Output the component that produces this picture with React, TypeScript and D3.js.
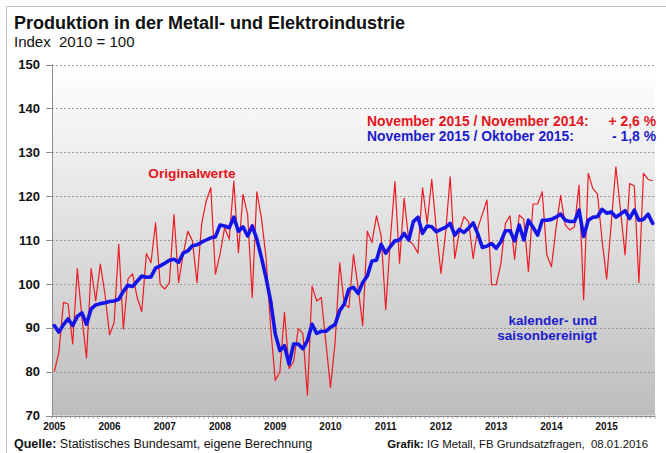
import React from 'react';
import * as d3 from 'd3';

const years = ['2005','2006','2007','2008','2009','2010','2011','2012','2013','2014','2015'];
const yTicks = [70, 80, 90, 100, 110, 120, 130, 140, 150];

// Originalwerte, Jan 2005 .. Nov 2015
const original = [
  80.0, 84.4, 95.8, 95.4, 86.3, 103.5, 92.3, 83.1, 103.5, 96.1, 104.5, 97.7,
  88.4, 91.2, 109.0, 89.7, 101.1, 102.3, 96.9, 93.7, 106.9, 104.8, 113.9, 99.9,
  98.8, 100.3, 115.8, 100.3, 106.7, 112.0, 109.8, 100.3, 113.6, 118.9, 121.9, 102.2,
  106.7, 112.8, 110.2, 123.4, 107.1, 120.4, 115.8, 96.9, 121.0, 115.0, 106.0, 90.1,
  78.0, 79.9, 93.5, 80.7, 82.3, 89.8, 88.7, 74.6, 99.5, 96.1, 96.9, 86.6,
  76.4, 86.6, 104.8, 95.4, 94.6, 106.7, 99.2, 90.5, 112.0, 109.4, 115.5, 111.0,
  94.1, 110.0, 123.3, 104.7, 119.5, 110.0, 108.9, 107.0, 121.9, 113.8, 123.8, 112.3,
  102.4, 111.5, 124.4, 105.8, 111.9, 115.3, 114.2, 105.8, 112.7, 115.9, 119.1, 99.8,
  99.8, 104.5, 113.8, 115.5, 105.6, 115.7, 114.7, 102.8, 118.2, 118.2, 121.0, 106.6,
  103.9, 112.7, 120.2, 113.4, 112.3, 113.0, 122.5, 96.4, 125.2, 121.7, 120.5, 110.0,
  101.1, 113.8, 126.7, 116.8, 106.6, 122.9, 122.3, 100.3, 125.2, 123.8, 123.5
];

// kalender- und saisonbereinigt
const adjusted = [
  90.5, 89.0, 90.7, 92.0, 90.5, 92.6, 93.4, 90.8, 94.3, 95.2, 95.5, 95.7,
  96.0, 96.1, 96.5, 98.3, 99.7, 99.4, 100.6, 101.8, 101.5, 101.6, 103.6, 104.1,
  104.7, 105.4, 105.6, 104.9, 107.0, 107.5, 108.7, 108.9, 109.5, 110.0, 110.5, 110.7,
  113.4, 113.2, 112.8, 115.2, 112.0, 113.0, 110.9, 113.2, 110.2, 106.0, 101.4, 96.1,
  88.6, 84.8, 85.9, 81.7, 86.3, 86.3, 85.2, 87.1, 90.8, 88.7, 89.2, 89.2,
  90.1, 90.7, 93.9, 95.4, 98.8, 99.2, 97.8, 100.3, 101.8, 105.2, 105.4, 109.0,
  107.0, 108.5, 109.8, 110.0, 111.5, 110.0, 114.2, 115.2, 111.5, 113.2, 113.0, 111.9,
  112.4, 112.9, 113.8, 111.1, 112.4, 111.7, 112.7, 113.9, 111.4, 108.3, 108.6, 109.2,
  108.1, 109.6, 112.1, 112.1, 109.8, 113.4, 110.0, 114.5, 112.9, 111.1, 114.5, 114.5,
  114.7, 115.2, 115.9, 114.5, 114.2, 114.2, 116.8, 110.8, 114.5, 115.2, 115.3, 117.0,
  116.1, 116.4, 115.2, 115.9, 116.7, 114.9, 116.8, 114.5, 114.7, 115.9, 113.8
];

const RED = '#ec1c24';
const BLUE = '#1414e6';
const TEXTRED = '#e5161c';
const TEXTBLUE = '#1c1ccc';
const FONT = 'Liberation Sans, Arial, sans-serif';

export default function App() {
  const W = 666, H = 453;
  const x0 = 52, x1 = 655, yTop = 64.5, yBot = 415.5;
  const idx = original.map((_, i) => i);
  const x = d3.scaleBand<number>().domain(idx).range([x0, x1]).padding(0);
  const bw = x.bandwidth();
  const cx = (i: number) => (x(i) as number) + bw / 2;
  const y = d3.scaleLinear().domain([70, 150]).range([yBot, yTop]);

  const line = d3.line<number>().x((_, i) => cx(i)).y(d => y(d));
  const redPath = line(original) || '';
  const bluePath = line(adjusted) || '';

  const boundaries = d3.range(original.length + 1).map(i => x0 + i * bw);
  const pre = { whiteSpace: 'pre' as const };

  return (
    <svg width={W} height={H} style={{ position: 'absolute', left: 0, top: 0, background: '#fff' }} fontFamily={FONT}>
      <defs>
        <linearGradient id="bg" x1="0" y1="0" x2="0" y2="1">
          <stop offset="0" stopColor="#ffffff" />
          <stop offset="1" stopColor="#bdbdbd" />
        </linearGradient>
      </defs>
      <rect x={0} y={0} width={W} height={H} fill="#fff" />
      <line x1={6} y1={6.5} x2={W} y2={6.5} stroke="#c4c4c4" />
      <line x1={6.5} y1={6} x2={6.5} y2={H} stroke="#c4c4c4" />

      <text x={14} y={29} fontSize={18} fontWeight="bold" fill="#111">Produktion in der Metall- und Elektroindustrie</text>
      <text x={14} y={47} fontSize={15} fill="#111" style={pre}>Index  2010 = 100</text>

      <rect x={x0} y={yTop} width={x1 - x0} height={yBot - yTop} fill="url(#bg)" />
      {yTicks.filter(t => t > 70).map(t => (
        <line key={'g' + t} x1={x0} x2={x1} y1={Math.round(y(t)) + 0.5} y2={Math.round(y(t)) + 0.5}
          stroke="#9a9a9a" strokeWidth={1} strokeDasharray="2,2" />
      ))}

      <line x1={x0 + 0.5} x2={x0 + 0.5} y1={yTop} y2={yBot} stroke="#8c8c8c" />
      {yTicks.map(t => (
        <line key={'yt' + t} x1={x0 - 6} x2={x0} y1={Math.round(y(t)) + 0.5} y2={Math.round(y(t)) + 0.5} stroke="#8c8c8c" />
      ))}
      {yTicks.map(t => (
        <text key={'yl' + t} x={40} y={y(t)} dy="0.36em" textAnchor="end" fontSize={13} fontWeight="bold" fill="#111">{t}</text>
      ))}

      <line x1={x0} x2={x1} y1={Math.round(yBot) + 0.5} y2={Math.round(yBot) + 0.5} stroke="#8c8c8c" />
      {boundaries.map((b, i) => (
        <line key={'xt' + i} x1={b} x2={b} y1={yBot} y2={yBot + 3} stroke="#8c8c8c" strokeWidth={0.8} />
      ))}
      {years.map((yr, k) => (
        <text key={'xl' + yr} x={cx(k * 12)} y={430} textAnchor="middle" fontSize={10} fontWeight="bold" fill="#111">{yr}</text>
      ))}

      <path d={redPath} fill="none" stroke={RED} strokeWidth={1.2} strokeLinejoin="round" />
      <path d={bluePath} fill="none" stroke={BLUE} strokeWidth={3.6} strokeLinejoin="round" strokeLinecap="round" />

      <text x={192} y={178} textAnchor="middle" fontSize={13.7} fontWeight="bold" fill={TEXTRED}>Originalwerte</text>

      <text x={367} y={126} fontSize={13.9} fontWeight="bold" fill={TEXTRED}>November 2015 / November 2014:</text>
      <text x={656} y={126} textAnchor="end" fontSize={13.9} fontWeight="bold" fill={TEXTRED}>+ 2,6 %</text>
      <text x={367} y={141} fontSize={13.9} fontWeight="bold" fill={TEXTBLUE}>November 2015 / Oktober 2015:</text>
      <text x={656} y={141} textAnchor="end" fontSize={13.9} fontWeight="bold" fill={TEXTBLUE}>- 1,8 %</text>

      <text x={597} y={325} textAnchor="end" fontSize={13.5} fontWeight="bold" fill={TEXTBLUE}>kalender- und</text>
      <text x={597} y={340} textAnchor="end" fontSize={13.5} fontWeight="bold" fill={TEXTBLUE}>saisonbereinigt</text>

      <text x={14} y={448} fontSize={12.5} fill="#111" style={pre}>
        <tspan fontWeight="bold">Quelle:</tspan> Statistisches Bundesamt, eigene Berechnung
      </text>
      <text x={648} y={448} textAnchor="end" fontSize={11.4} fill="#111" style={pre}>
        <tspan fontWeight="bold">Grafik:</tspan> IG Metall, FB Grundsatzfragen,  08.01.2016
      </text>
    </svg>
  );
}
